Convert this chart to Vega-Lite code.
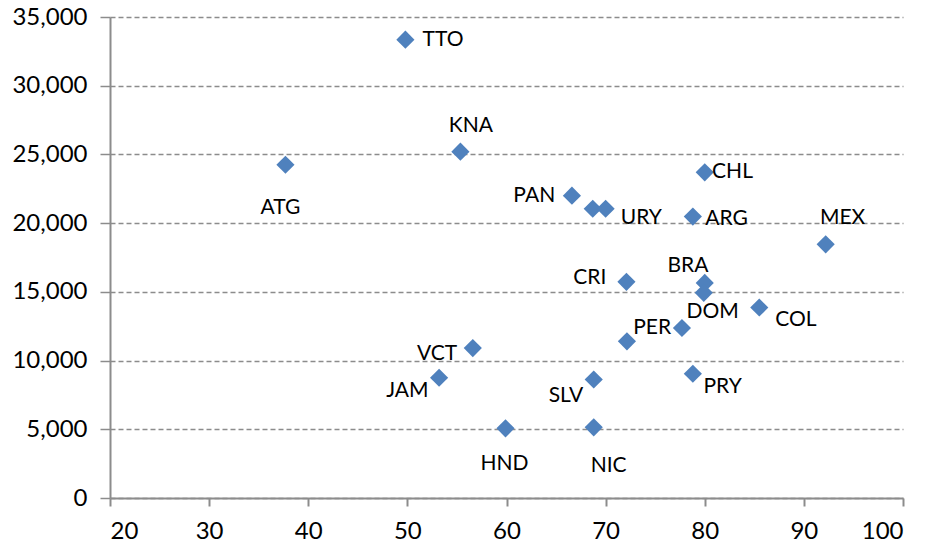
{
  "$schema": "https://vega.github.io/schema/vega-lite/v6.json",
  "width": 793,
  "height": 481,
  "autosize": {"type": "none"},
  "padding": {"left": 110, "top": 17, "right": 22, "bottom": 47},
  "background": "white",
  "config": {
    "view": {"stroke": null},
    "font": "Lato"
  },
  "data": {
    "values": [
      {"country": "TTO", "x": 49.8, "y": 33350, "lx": 53.6, "ly": 33350},
      {"country": "KNA", "x": 55.35, "y": 25200, "lx": 56.4, "ly": 27100},
      {"country": "ATG", "x": 37.7, "y": 24250, "lx": 37.2, "ly": 21100},
      {"country": "PAN", "x": 66.6, "y": 22000, "lx": 62.8, "ly": 22000},
      {"country": "", "x": 68.7, "y": 21050, "lx": 68.7, "ly": 21050},
      {"country": "URY", "x": 70.0, "y": 21050, "lx": 73.6, "ly": 20350},
      {"country": "CHL", "x": 80.0, "y": 23700, "lx": 82.8, "ly": 23700},
      {"country": "ARG", "x": 78.8, "y": 20480, "lx": 82.2, "ly": 20300},
      {"country": "MEX", "x": 92.2, "y": 18460, "lx": 93.9, "ly": 20360},
      {"country": "CRI", "x": 72.1, "y": 15730, "lx": 68.4, "ly": 16020},
      {"country": "BRA", "x": 80.0, "y": 15650, "lx": 78.3, "ly": 16880},
      {"country": "DOM", "x": 79.9, "y": 14930, "lx": 80.8, "ly": 13540},
      {"country": "COL", "x": 85.5, "y": 13860, "lx": 89.2, "ly": 12980},
      {"country": "PER", "x": 77.7, "y": 12370, "lx": 74.7, "ly": 12370},
      {"country": "", "x": 72.15, "y": 11400, "lx": 72.15, "ly": 11400},
      {"country": "PRY", "x": 78.8, "y": 9040, "lx": 81.8, "ly": 8110},
      {"country": "SLV", "x": 68.8, "y": 8620, "lx": 66.0, "ly": 7450},
      {"country": "VCT", "x": 56.6, "y": 10910, "lx": 53.0, "ly": 10500},
      {"country": "JAM", "x": 53.2, "y": 8750, "lx": 50.0, "ly": 7820},
      {"country": "HND", "x": 59.9, "y": 5070, "lx": 59.8, "ly": 2460},
      {"country": "NIC", "x": 68.8, "y": 5140, "lx": 70.3, "ly": 2340}
    ]
  },
  "layer": [
    {
      "mark": {"type": "point", "shape": "diamond", "filled": true, "color": "#4F81BD", "size": 330, "opacity": 1},
      "encoding": {
        "x": {
          "field": "x", "type": "quantitative",
          "scale": {"domain": [20, 100], "nice": false, "zero": false},
          "axis": {
            "title": null, "values": [20, 30, 40, 50, 60, 70, 80, 90, 100],
            "grid": false, "domainColor": "#8C8C8C", "domainWidth": 2,
            "tickColor": "#8C8C8C", "tickSize": 8, "tickWidth": 2,
            "labelFontSize": 24, "labelColor": "#000000", "labelPadding": 13,
            "labelFont": "Lato"
          }
        },
        "y": {
          "field": "y", "type": "quantitative",
          "scale": {"domain": [0, 35000], "nice": false},
          "axis": {
            "title": null, "values": [0, 5000, 10000, 15000, 20000, 25000, 30000, 35000],
            "format": ",d", "grid": true, "gridDash": [5, 3], "gridColor": "#8C8C8C", "gridWidth": 1.3,
            "domainColor": "#8C8C8C", "domainWidth": 2,
            "tickColor": "#8C8C8C", "tickSize": 10, "tickWidth": 1.5,
            "labelFontSize": 24, "labelColor": "#000000", "labelPadding": 13,
            "labelFont": "Lato"
          }
        }
      }
    },
    {
      "mark": {"type": "text", "fontSize": 21, "color": "#000000", "align": "center", "baseline": "middle", "font": "Lato"},
      "encoding": {
        "x": {"field": "lx", "type": "quantitative"},
        "y": {"field": "ly", "type": "quantitative"},
        "text": {"field": "country"}
      }
    }
  ]
}
